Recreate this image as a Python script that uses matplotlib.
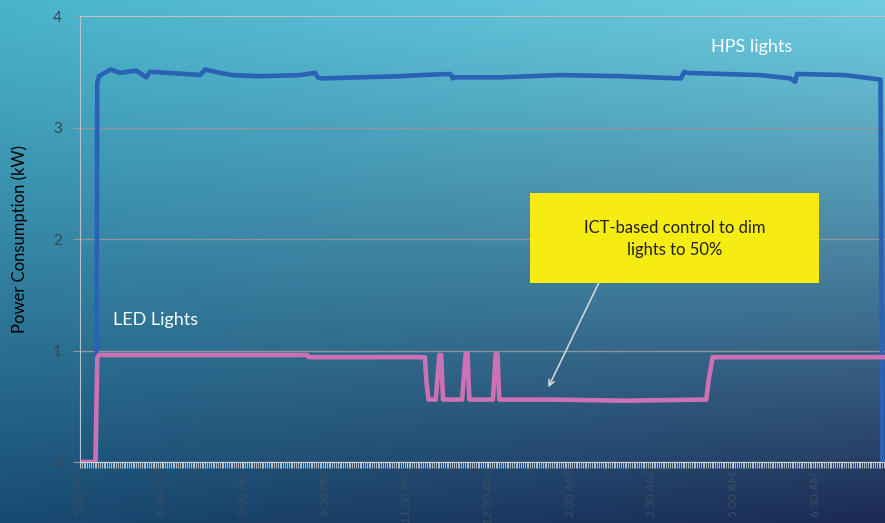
import matplotlib.pyplot as plt
import numpy as np
from matplotlib.patches import Rectangle

plt.rcParams['font.family'] = ['Lato', 'DejaVu Sans']

# time in minutes after 5:00 PM
hps_t = [0, 18, 19, 21, 25, 34, 44, 62, 73, 77, 116, 132, 138, 154, 168, 198,
         243, 259, 262, 265, 353, 375, 408, 411, 413, 463, 529, 595, 662, 666,
         668, 750, 783, 788, 790, 843, 882, 884, 887]
hps_kw = [0, 0, 3.40, 3.46, 3.48, 3.52, 3.49, 3.51, 3.45, 3.50, 3.48, 3.47, 3.52,
          3.49, 3.47, 3.46, 3.47, 3.49, 3.45, 3.44, 3.46, 3.47, 3.48, 3.44, 3.45,
          3.45, 3.47, 3.46, 3.44, 3.50, 3.49, 3.47, 3.44, 3.41, 3.48, 3.47, 3.43,
          0, 0]

led_t = [0, 17, 19, 21, 60, 140, 250, 252, 380, 382, 384, 392, 396, 398, 400,
         421, 425, 427, 429, 455, 458, 460, 462, 520, 600, 690, 693, 697, 887]
led_kw = [0, 0, 0.93, 0.96, 0.96, 0.96, 0.96, 0.94, 0.94, 0.70, 0.56, 0.56, 0.96,
          0.96, 0.56, 0.56, 0.97, 0.97, 0.56, 0.56, 0.97, 0.97, 0.56, 0.56, 0.55,
          0.56, 0.75, 0.94, 0.94]

tick_pos = [0, 90, 180, 270, 360, 450, 540, 630, 720, 810]
tick_labels = ['5:00 PM', '6:30 PM', '8:00 PM', '9:30 PM', '11:00 PM',
               '12:30 AM', '2:00 AM', '3:30 AM', '5:00 AM', '6:30 AM']

fig = plt.figure(figsize=(8.85, 5.23), dpi=100)

# gradient background
bg = fig.add_axes([0, 0, 1, 1], zorder=-10)
tl = np.array([74, 180, 204]) / 255
tr = np.array([110, 204, 224]) / 255
bl = np.array([24, 74, 114]) / 255
br = np.array([28, 42, 82]) / 255
yy, xx = np.mgrid[0:1:200j, 0:1:300j]
yy = yy ** 1.1
img = (tl * ((1 - xx) * (1 - yy))[..., None] + tr * (xx * (1 - yy))[..., None]
       + bl * ((1 - xx) * yy)[..., None] + br * (xx * yy)[..., None])
bg.imshow(img, aspect='auto', extent=[0, 1, 0, 1])
bg.axis('off')

ax = fig.add_axes([80 / 885, 1 - 462 / 523, 805 / 885, 446 / 523])
ax.patch.set_alpha(0)
ax.plot(hps_t, hps_kw, color='#2a62b6', lw=3.3, solid_joinstyle='round')
ax.plot(led_t, led_kw, color='#cc72b4', lw=3.3, solid_joinstyle='round')

ax.set_xlim(0, 887)
ax.set_ylim(0, 4)
ax.set_yticks([0, 1, 2, 3, 4])
ax.set_xticks(tick_pos)
ax.set_xticklabels(tick_labels, rotation=90)
ax.set_xticks(np.arange(0, 887, 2), minor=True)
ax.tick_params(axis='x', which='minor', length=4, width=0.6, color='#c8d0d8')
ax.tick_params(axis='x', which='major', length=4, color='#c8d0d8',
               labelsize=8.5, labelcolor='#3c4e62', pad=3)
ax.tick_params(axis='y', length=5, color='#909aa0', labelsize=11,
               labelcolor='#3a4650', pad=8)
ax.grid(axis='y', color='#8c969c', lw=1.0)
ax.set_axisbelow(True)
ax.spines['right'].set_visible(False)
ax.spines['left'].set_color('#b8c4c8')
ax.spines['top'].set_color('#b8c4c8')
ax.spines['bottom'].set_color('#c8d0d8')

ax.set_ylabel('Power Consumption (kW)', fontsize=12, color='black', labelpad=18)

ax.text(740, 3.72, 'HPS lights', color='white', fontsize=13, ha='center',
        va='center')
ax.text(83, 1.27, 'LED Lights', color='white', fontsize=13, ha='center',
        va='center')

# yellow call-out box
ax.add_patch(Rectangle((496, 1.605), 318, 0.805, fc='#f5ec12', ec='none',
                       zorder=4))
ax.text(655, 2.0, 'ICT-based control to dim\nlights to 50%', ha='center',
        va='center', fontsize=12, color='#202020', linespacing=1.45, zorder=5)
ax.annotate('', xy=(516, 0.67), xytext=(573, 1.63),
            arrowprops=dict(arrowstyle='->', color='#d0d4d6', lw=1.2,
                            shrinkA=0, shrinkB=0))

fig.savefig('out.png', dpi=100)
